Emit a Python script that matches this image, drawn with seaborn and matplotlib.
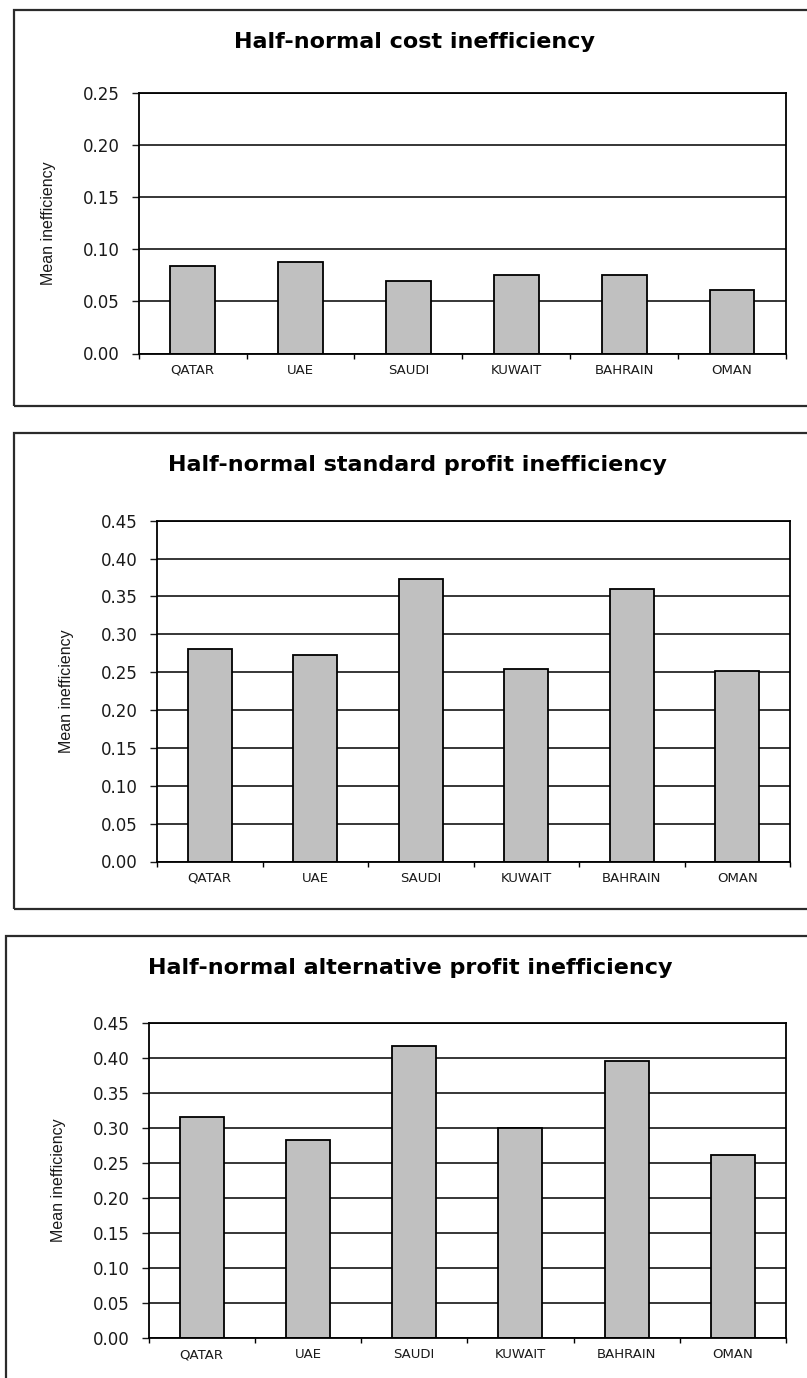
import matplotlib
matplotlib.use("Agg")
import matplotlib.pyplot as plt
import seaborn as sns
import pandas as pd
from matplotlib.patches import Rectangle
from matplotlib.ticker import MultipleLocator, FixedLocator, FormatStrFormatter

# Mean inefficiency by country, three half-normal frontier specifications
countries = ["QATAR", "UAE", "SAUDI", "KUWAIT", "BAHRAIN", "OMAN"]
cost_ineff = [0.084, 0.088, 0.070, 0.075, 0.075, 0.061]
std_profit_ineff = [0.281, 0.273, 0.373, 0.254, 0.360, 0.252]
alt_profit_ineff = [0.315, 0.282, 0.417, 0.300, 0.396, 0.261]

titles = [
    "Half-normal cost inefficiency",
    "Half-normal standard profit inefficiency",
    "Half-normal alternative profit inefficiency",
]
y_label = "Mean inefficiency"
y_max = [0.25, 0.45, 0.45]

sns.set_theme(style="white")
plt.rcParams["font.family"] = ["DejaVu Sans"]

W, H = 807, 1378
fig = plt.figure(figsize=(W / 100, H / 100), dpi=100)
fig.patch.set_facecolor("white")


def px_axes(l, t, r, b):
    return fig.add_axes([l / W, 1 - b / H, (r - l) / W, (b - t) / H])


def px_frame(l, t, r, b):
    fig.add_artist(Rectangle((l / W, 1 - b / H), (r - l) / W, (b - t) / H,
                             transform=fig.transFigure, fill=False,
                             edgecolor="#2b2b2b", linewidth=1.6))


# pixel layout: axes box, outer frame, title centre, y-label centre x
layout = [
    dict(axes=(138.7, 93, 786, 353.5), frame=(14, 10, 840, 406),
         title=(414, 42), ylab_x=49),
    dict(axes=(157, 520.7, 790, 861.5), frame=(14, 432.5, 840, 909.3),
         title=(417, 465), ylab_x=67),
    dict(axes=(148.5, 1022.7, 786, 1337.7), frame=(6, 935.5, 840, 1420),
         title=(410, 968), ylab_x=58),
]

series = [cost_ineff, std_profit_ineff, alt_profit_ineff]

for vals, ttl, ymax, lay in zip(series, titles, y_max, layout):
    px_frame(*lay["frame"])
    ax = px_axes(*lay["axes"])
    df = pd.DataFrame({"country": countries, "value": vals})
    sns.barplot(data=df, x="country", y="value", ax=ax, color="#c0c0c0",
                saturation=1, edgecolor="black", linewidth=1.3, width=0.415)
    ax.set_xlim(-0.5, len(countries) - 0.5)
    ax.set_ylim(0, ymax)
    ax.yaxis.set_major_locator(MultipleLocator(0.05))
    ax.yaxis.set_major_formatter(FormatStrFormatter("%.2f"))
    ax.set_axisbelow(True)
    ax.grid(axis="y", color="black", linewidth=1.1)
    ax.grid(axis="x", visible=False)
    for sp in ax.spines.values():
        sp.set_visible(True)
        sp.set_color("black")
        sp.set_linewidth(1.3)
    ax.set_facecolor("white")
    ax.tick_params(axis="y", left=True, direction="out", length=4.7,
                   width=1.0, pad=9, labelsize=12, colors="#1a1a1a")
    ax.xaxis.set_minor_locator(FixedLocator([i - 0.5 for i in range(len(countries) + 1)]))
    ax.tick_params(axis="x", which="major", bottom=True, length=0, pad=7.5,
                   labelsize=9.5, colors="#1a1a1a")
    ax.tick_params(axis="x", which="minor", bottom=True, direction="out",
                   length=3.5, width=1.0, color="black")
    ax.set_xlabel("")
    ax.set_ylabel("")
    l, t, r, b = lay["axes"]
    fig.text(lay["ylab_x"] / W, 1 - ((t + b) / 2) / H, y_label, rotation=90,
             ha="center", va="center", fontsize=11.5,
             family=["Liberation Sans", "DejaVu Sans"], color="#1a1a1a")
    tx, ty = lay["title"]
    fig.text(tx / W, 1 - ty / H, ttl, ha="center", va="center",
             fontsize=16, fontweight="bold", color="black")

fig.savefig("out.png", dpi=100, facecolor="white")
